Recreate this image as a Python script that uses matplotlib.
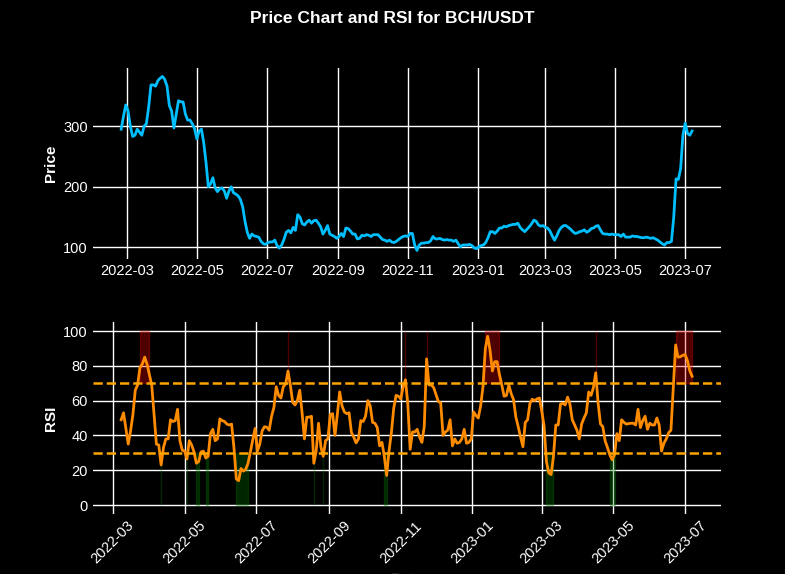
import numpy as np
import pandas as pd
import matplotlib
matplotlib.use('Agg')
import matplotlib.pyplot as plt

plt.rcParams['font.family'] = ['Liberation Sans', 'DejaVu Sans']

# daily closes, one value every 2 days
dates = pd.date_range('2022-02-24', periods=250, freq='2D')

price = np.array([
    295, 316, 335, 325, 300, 283, 285, 295, 290, 285,
    300, 304, 332, 368, 368, 366, 375, 379, 382, 377,
    366, 334, 325, 297, 320, 342, 340, 340, 320, 310,
    310, 304, 296, 279, 292, 295, 273, 240, 200, 205,
    215, 198, 192, 197, 198, 193, 181, 193, 200, 190,
    188, 185, 179, 167, 143, 125, 115, 122, 119, 118,
    117, 110, 106, 105, 108, 109, 109, 112, 103, 99,
    104, 113, 125, 128, 124, 133, 128, 154, 150, 139,
    137, 142, 145, 140, 144, 145, 140, 134, 122, 128,
    136, 122, 120, 118, 115, 118, 123, 118, 132, 131,
    127, 122, 122, 114, 115, 120, 119, 121, 120, 118,
    121, 121, 121, 117, 113, 112, 110, 112, 109, 108,
    110, 113, 116, 118, 119, 118, 123, 123, 104, 95,
    104, 107, 107, 108, 108, 111, 118, 114, 114, 115,
    113, 112, 113, 112, 112, 110, 112, 106, 101, 104,
    104, 104, 105, 103, 99, 98, 101, 103, 104, 108,
    116, 126, 126, 123, 127, 132, 132, 135, 134, 136,
    137, 138, 138, 140, 133, 129, 126, 130, 134, 139,
    145, 143, 137, 135, 136, 133, 132, 127, 119, 112,
    119, 128, 133, 136, 136, 133, 130, 126, 123, 124,
    126, 127, 129, 125, 127, 131, 132, 135, 136, 129,
    123, 122, 122, 121, 122, 121, 121, 121, 118, 122,
    117, 117, 117, 119, 118, 118, 117, 116, 116, 117,
    116, 115, 116, 114, 112, 109, 106, 104, 108, 108,
    110, 150, 213, 212, 230, 285, 305, 288, 285, 292,
])

rsi = np.array([np.nan] * 6 + [
    49, 53, 44, 35,
    42.6, 52, 66, 69, 79, 81, 85, 81, 75, 69,
    52, 35, 34.5, 23, 33, 38, 38, 49, 48, 48.5,
    55, 37, 31.5, 31, 26.5, 37, 34.5, 30.5, 24, 25,
    30.5, 31, 27, 28, 41, 43.5, 37, 38, 49.5, 48.5,
    48, 46.5, 46, 46.5, 33, 15, 14, 21, 19.5, 20.5,
    24, 30.5, 37.5, 44, 31, 35, 42.6, 45, 44.7, 43,
    51, 56, 68, 63, 61.5, 68, 69.5, 77, 69, 59,
    57.5, 60, 66, 53, 38, 50.5, 50.5, 51, 24, 31,
    47, 33.5, 28, 37, 38, 52, 52.5, 40, 52, 65,
    57, 53.5, 52.5, 53, 41.7, 39, 35.7, 38, 48.5, 48,
    51, 60, 57, 47.5, 47, 44.5, 34, 36, 28, 17,
    31, 41.5, 55.5, 63, 62.5, 61, 68, 72, 58, 32,
    42, 42, 43.5, 39, 36, 45, 84, 69, 69, 67.5,
    63.5, 59.5, 58.7, 40, 42, 43, 49, 34, 38, 35.5,
    36, 38, 43.5, 35.5, 36, 38, 53.5, 51.5, 50, 57,
    68, 90, 97, 89, 77, 82.4, 82.4, 75, 69, 62.5,
    63, 69, 64, 60.6, 50.5, 45, 39, 33.5, 47.5, 49,
    58.5, 60.8, 60, 61, 61.5, 54, 45.5, 25, 18.4, 17.5,
    28, 46, 46, 58, 58.5, 57.5, 62, 58, 49, 46,
    43, 38, 46.6, 50, 53, 65, 63, 67.5, 76, 58.5,
    46.6, 45, 36.8, 33, 28.8, 26, 29, 41, 37, 49,
    47.5, 46.5, 46.8, 47, 47, 46, 55, 44.5, 48.5, 51,
    43.5, 47, 46, 46, 50, 46, 31, 35.5, 38, 41.5,
    43, 68, 92, 85, 85.2, 86, 86.5, 83, 77.2, 74,
])

overbought = 70
oversold = 30

fig, (ax1, ax2) = plt.subplots(2, 1, figsize=(7.85, 5.74), dpi=100)
fig.patch.set_facecolor('black')
fig.subplots_adjust(left=0.118, right=0.918, top=0.882, bottom=0.105, hspace=0.33)

for ax in (ax1, ax2):
    ax.set_facecolor('black')
    ax.grid(True, color='white', linewidth=1)
    ax.set_axisbelow(True)
    for s in ax.spines.values():
        s.set_visible(False)
    ax.tick_params(colors='white', length=0, labelsize=10.5)

# price panel
ax1.plot(dates, price, color='deepskyblue', linewidth=2)
ax1.set_ylabel('Price', color='white', fontweight='bold', fontsize=11)

# rsi panel
valid = ~np.isnan(rsi)
ax2.plot(dates[valid], rsi[valid], color='darkorange', linewidth=2)
ax2.axhline(overbought, color='orange', linestyle='--', linewidth=1.8)
ax2.axhline(oversold, color='orange', linestyle='--', linewidth=1.8)
ax2.fill_between(dates, overbought, 100, where=rsi > overbought, color='red', alpha=0.3)
ax2.fill_between(dates, 0, oversold, where=rsi < oversold, color='green', alpha=0.3)
ax2.set_ylabel('RSI', color='white', fontweight='bold', fontsize=11)
ax2.set_xlabel('Date', color='#262626', fontsize=11)
plt.setp(ax2.get_xticklabels(), rotation=45)

fig.suptitle('Price Chart and RSI for BCH/USDT', color='white', fontweight='bold', fontsize=12.5)

fig.savefig('out.png', dpi=100, facecolor=fig.get_facecolor())
